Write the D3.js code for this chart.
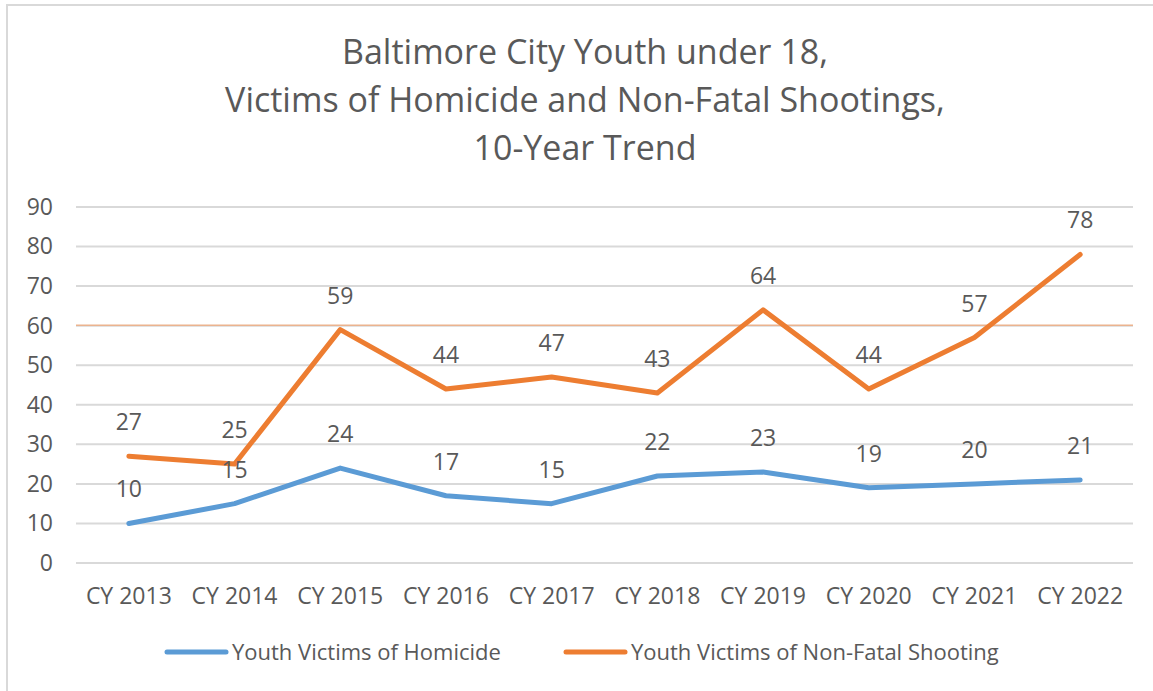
<!DOCTYPE html>
<html>
<head>
<meta charset="utf-8">
<script src="https://cdn.jsdelivr.net/npm/d3@7"></script>
<style>
  body { margin: 0; background: #fff; }
  text { font-family: "Open Sans", sans-serif; fill: #595959; }
</style>
</head>
<body>
<div id="chart"></div>
<script>
var years = ["CY 2013", "CY 2014", "CY 2015", "CY 2016", "CY 2017", "CY 2018", "CY 2019", "CY 2020", "CY 2021", "CY 2022"];
var homicide = [10, 15, 24, 17, 15, 22, 23, 19, 20, 21];
var shooting = [27, 25, 59, 44, 47, 43, 64, 44, 57, 78];
var yTicks = [0, 10, 20, 30, 40, 50, 60, 70, 80, 90];
var titleLines = ["Baltimore City Youth under 18,", "Victims of Homicide and Non-Fatal Shootings,", "10-Year Trend"];
var seriesNames = ["Youth Victims of Homicide", "Youth Victims of Non-Fatal Shooting"];
var refValue = 60;

var width = 1153, height = 691;
var margin = {top: 207, left: 76};
var plotRight = 1133, plotBottom = 563;

var svg = d3.select("#chart").append("svg")
    .attr("width", width)
    .attr("height", height);

// outer frame (only top and left edges show)
svg.append("line").attr("x1", 6).attr("x2", width).attr("y1", 5).attr("y2", 5)
    .attr("stroke", "#d9d9d9").attr("stroke-width", 2);
svg.append("line").attr("x1", 7).attr("x2", 7).attr("y1", 4).attr("y2", height)
    .attr("stroke", "#d9d9d9").attr("stroke-width", 2);

// title
svg.append("g").selectAll("text")
    .data(titleLines)
    .enter().append("text")
    .attr("x", 585)
    .attr("y", (d, i) => 64 + i * 48)
    .attr("text-anchor", "middle")
    .attr("font-size", "34px")
    .text(d => d);

var g = svg.append("g")
    .attr("transform", "translate(" + margin.left + "," + margin.top + ")");
var w = plotRight - margin.left;
var h = plotBottom - margin.top;

var x = d3.scaleBand().domain(years).range([0, w]);
var y = d3.scaleLinear().domain([0, 90]).range([h, 0]);

// gridlines
g.append("g").selectAll("line")
    .data(yTicks)
    .enter().append("line")
    .attr("x1", 0).attr("x2", w)
    .attr("y1", d => y(d)).attr("y2", d => y(d))
    .attr("stroke", "#d9d9d9").attr("stroke-width", 2);

// thin orange line at 60
g.append("line")
    .attr("x1", 0).attr("x2", w)
    .attr("y1", y(refValue) - 0.5).attr("y2", y(refValue) - 0.5)
    .attr("stroke", "#F4A06A").attr("stroke-width", 1);

// y axis labels
var leftAxis = d3.axisLeft(y).tickValues(yTicks).tickSize(0).tickPadding(23);
var ya = g.append("g").call(leftAxis);
ya.select(".domain").remove();
ya.selectAll("text").attr("font-size", "23px").attr("fill", "#595959")
    .style("font-family", "'Open Sans', sans-serif");

// x axis labels
var bottomAxis = d3.axisBottom(x).tickSize(0).tickPadding(25);
var xa = g.append("g").attr("transform", "translate(0," + h + ")").call(bottomAxis);
xa.select(".domain").remove();
xa.selectAll("text").attr("font-size", "23px").attr("fill", "#595959")
    .style("font-family", "'Open Sans', sans-serif");

var cx = d => x(d) + x.bandwidth() / 2;
var series = [
  {name: seriesNames[0], values: homicide, color: "#5B9BD5"},
  {name: seriesNames[1], values: shooting, color: "#ED7D31"}
];

var line = d3.line()
    .x((d, i) => cx(years[i]))
    .y(d => y(d));

series.forEach(s => {
  g.append("path")
    .datum(s.values)
    .attr("d", line)
    .attr("fill", "none")
    .attr("stroke", s.color)
    .attr("stroke-width", 5)
    .attr("stroke-linejoin", "round")
    .attr("stroke-linecap", "round");
});

// data labels above points
series.forEach(s => {
  g.append("g").selectAll("text")
    .data(s.values)
    .enter().append("text")
    .attr("x", (d, i) => cx(years[i]))
    .attr("y", d => y(d) - 26)
    .attr("text-anchor", "middle")
    .attr("font-size", "23px")
    .text(d => d);
});

// legend
var legendX = [167, 566];
var legend = svg.append("g");
series.forEach((s, i) => {
  var row = legend.append("g").attr("transform", "translate(" + legendX[i] + ",652)");
  row.append("line")
    .attr("x1", 0).attr("x2", 59)
    .attr("stroke", s.color).attr("stroke-width", 5).attr("stroke-linecap", "round");
  row.append("text")
    .attr("x", 65).attr("y", 8)
    .attr("font-size", "22px")
    .text(s.name);
});
</script>
</body>
</html>
